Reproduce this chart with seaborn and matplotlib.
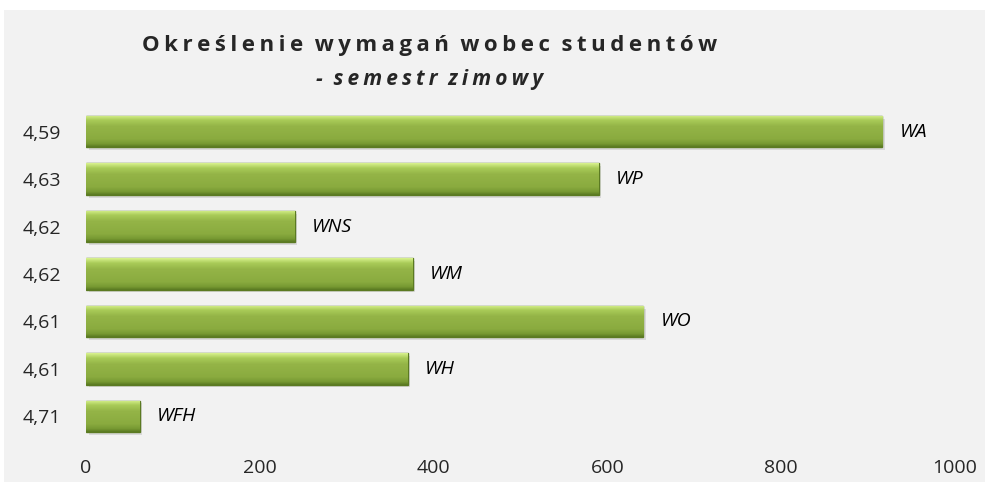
import numpy as np
import pandas as pd
import seaborn as sns
import matplotlib.pyplot as plt
from matplotlib.colors import LinearSegmentedColormap

# data
faculties = ['WA', 'WP', 'WNS', 'WM', 'WO', 'WH', 'WFH']
means = ['4,59', '4,63', '4,62', '4,62', '4,61', '4,61', '4,71']
counts = [916, 590, 240, 376, 641, 370, 62]

df = pd.DataFrame({'mean': means, 'count': counts, 'faculty': faculties})
df['row'] = [f'{m}\n{i}' for i, m in enumerate(means)]

sns.set_style('white')
plt.rcParams['font.family'] = ['Open Sans', 'DejaVu Sans']

fig = plt.figure(figsize=(9.85, 4.82), dpi=100)
fig.patch.set_facecolor('white')
# grey chart area
fig.patches.append(plt.Rectangle((4 / 985, 0), 1, 1 - 10 / 482, transform=fig.transFigure,
                                 facecolor='#f2f2f2', edgecolor='none', zorder=-1))
ax = fig.add_axes([86 / 985, 42 / 482, 869 / 985, 332 / 482])
ax.set_facecolor('none')

sns.barplot(data=df, x='count', y='row', color='#8db043', width=0.66,
            edgecolor='#5b7a22', linewidth=1.0, ax=ax, zorder=2)

# gradient fill for each bar
cmap = LinearSegmentedColormap.from_list(
    'g', [(0, '#d8f28e'), (0.15, '#a9cb58'), (0.35, '#94b447'), (0.75, '#8aab3f'),
          (0.9, '#789a33'), (1, '#5a7a22')])
grad = np.linspace(0, 1, 64).reshape(-1, 1)
for p in ax.patches:
    x0, y0 = p.get_x(), p.get_y()
    w, h = p.get_width(), p.get_height()
    # soft shadow
    ax.add_patch(plt.Rectangle((x0 + 3, y0 + 0.06), w, h, facecolor='#000000', alpha=0.10,
                               edgecolor='none', zorder=1))
    im = ax.imshow(grad, extent=(x0, x0 + w, y0 + h, y0), aspect='auto', cmap=cmap,
                   zorder=2.5, origin='upper')
    im.set_clip_path(p)

for i, (f, c) in enumerate(zip(faculties, counts)):
    ax.text(c + 20, i, f, va='center', ha='left', fontsize=14, style='italic', color='black')

ax.set_xlim(0, 1000)
ax.set_ylim(6.5, -0.5)
ax.set_xticks([0, 200, 400, 600, 800, 1000])
ax.set_yticks(range(len(means)))
ax.set_yticklabels(means)
ax.tick_params(axis='both', labelsize=14, length=0)
ax.tick_params(axis='x', pad=14)
ax.tick_params(axis='y', pad=18)
ax.set_xlabel('')
ax.set_ylabel('')
sns.despine(ax=ax, left=True, bottom=True)

ts = '\u2009'
title1 = '  '.join(ts.join(w) for w in 'Określenie wymagań wobec studentów'.split())
title2 = '-  ' + ts.join('semestr') + '  ' + ts.join('zimowy')
fig.text(430 / 985, 1 - 45 / 482, title1, ha='center', va='center', fontsize=16, fontweight='bold')
fig.text(430 / 985, 1 - 80 / 482, title2, ha='center', va='center', fontsize=15,
         fontweight='bold', style='italic')

fig.savefig('out.png', dpi=100)
